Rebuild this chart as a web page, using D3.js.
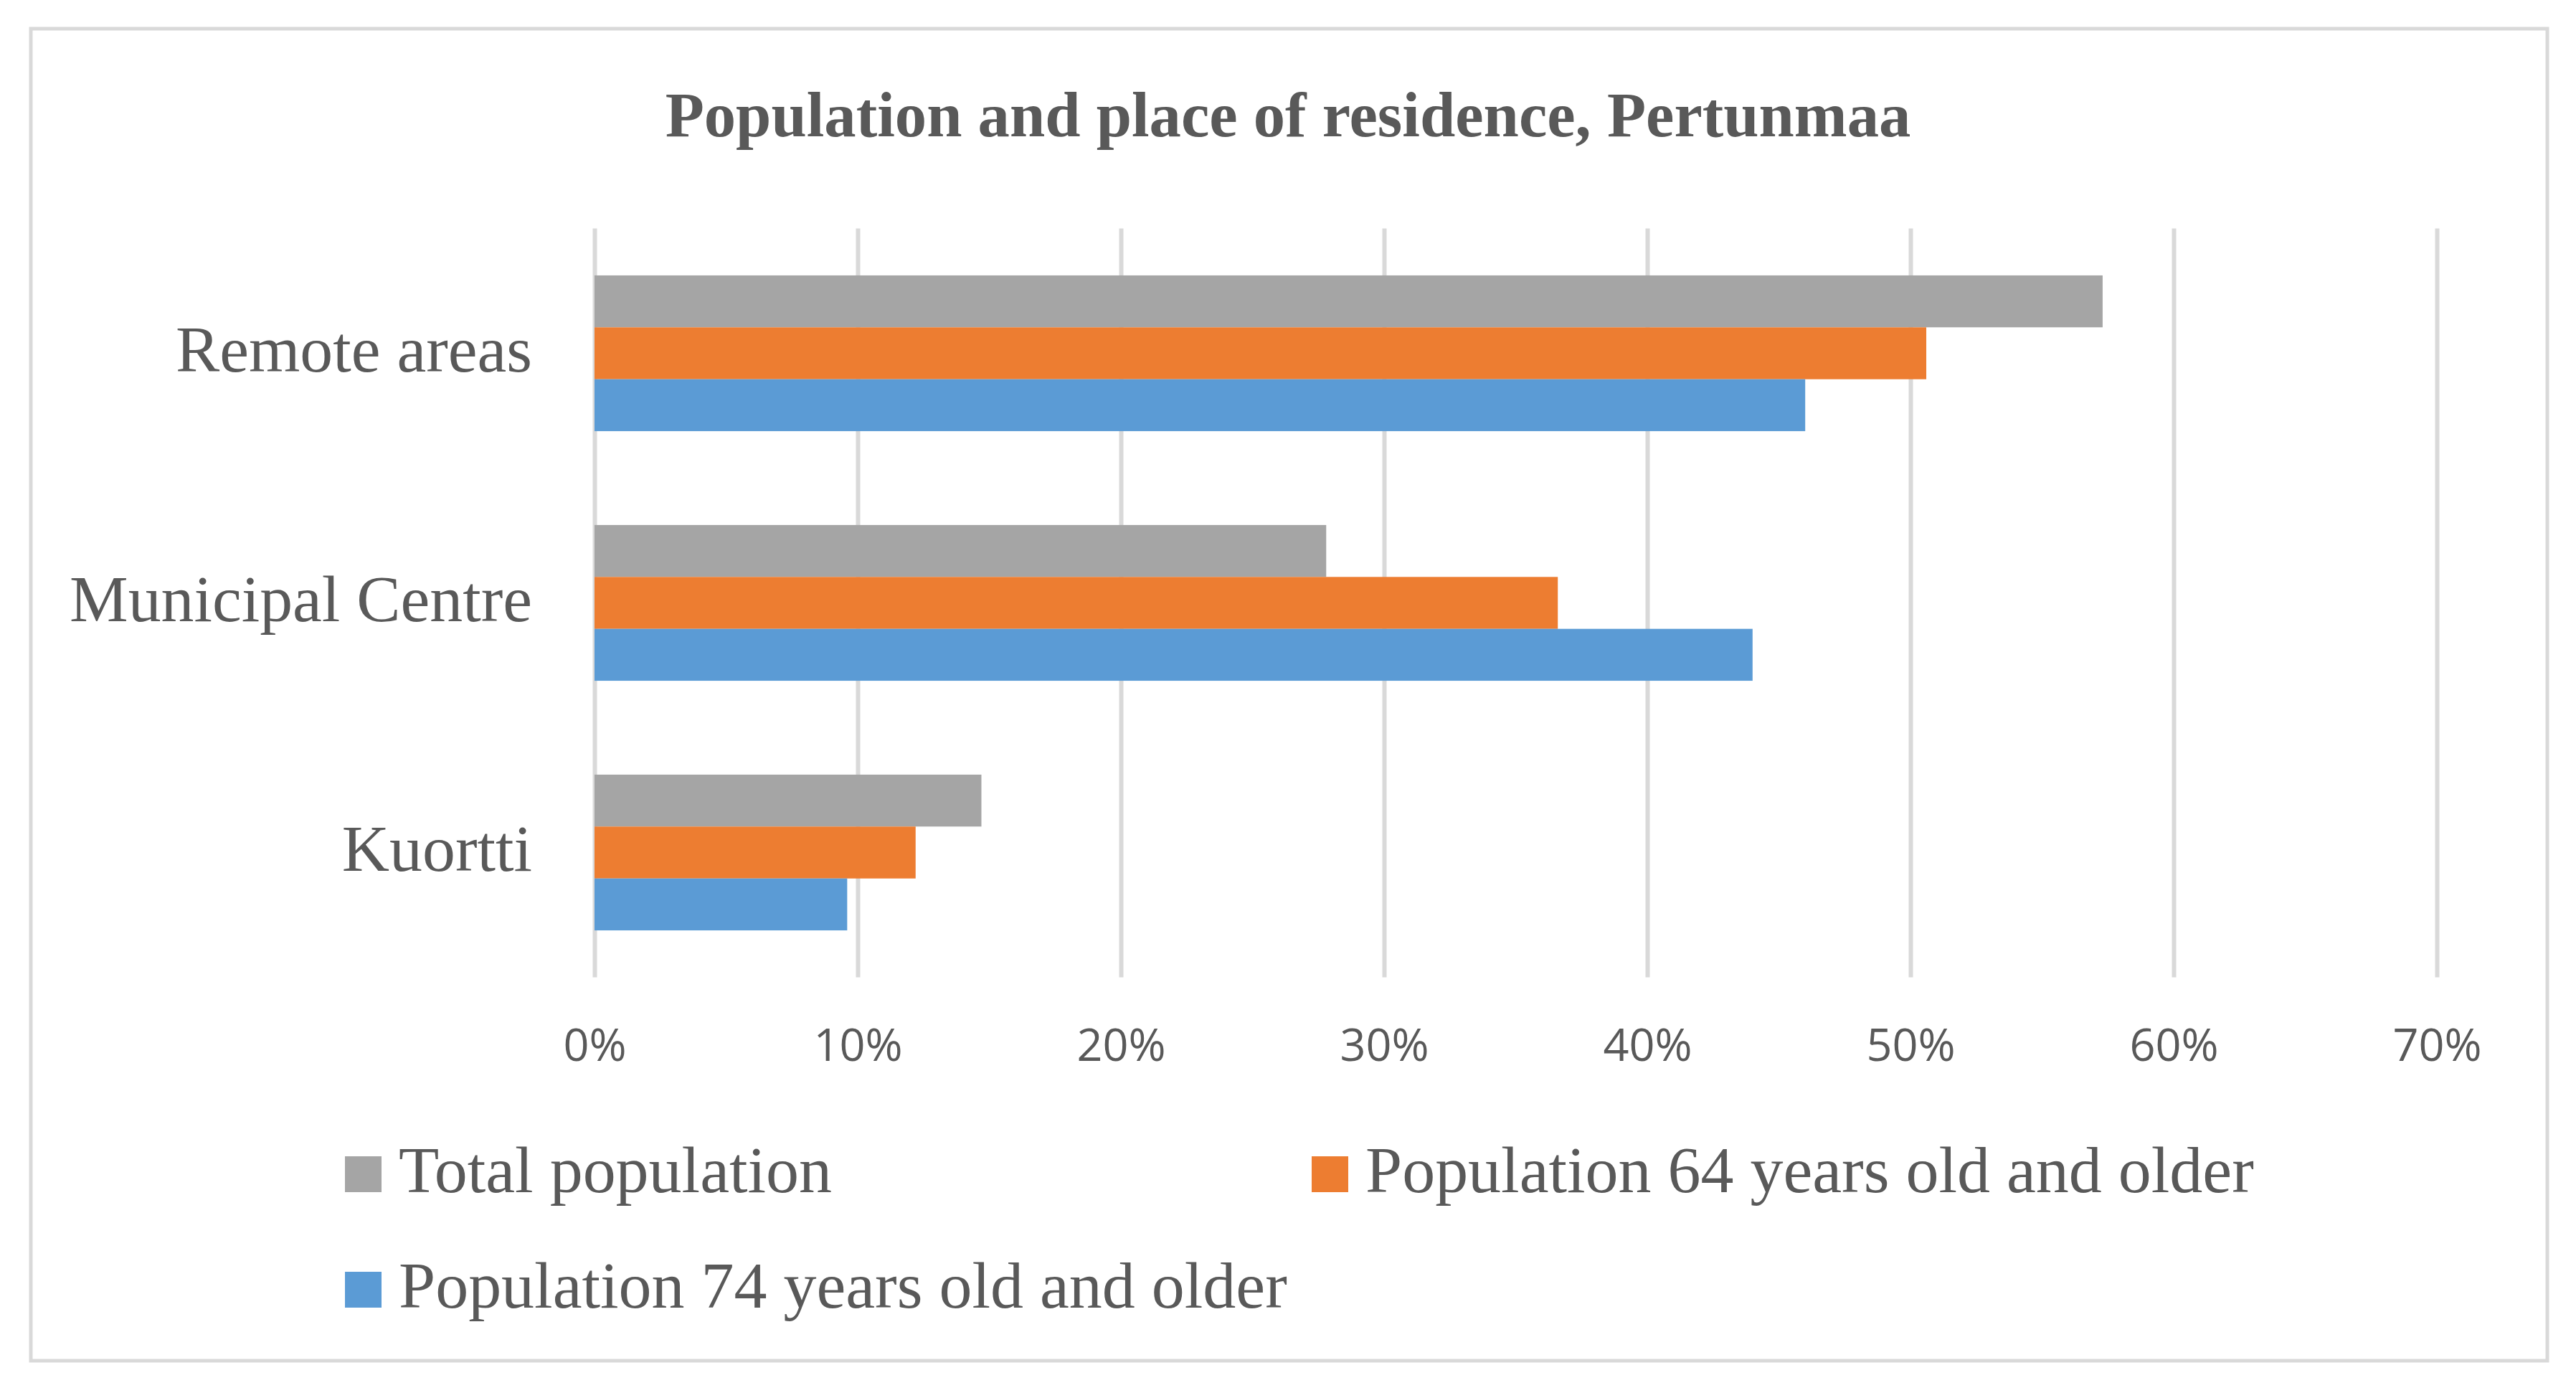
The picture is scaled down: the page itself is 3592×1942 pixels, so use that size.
<!DOCTYPE html>
<html>
<head>
<meta charset="utf-8">
<script src="https://cdn.jsdelivr.net/npm/d3@7"></script>
<style>
  body { margin: 0; background: #fff; }
  svg { display: block; }
</style>
</head>
<body>
<svg id="chart" width="3592" height="1942"></svg>
<script>
// chart data (percent of population)
var categories = ['Remote areas', 'Municipal Centre', 'Kuortti'];
var seriesNames = ['Total population', 'Population 64 years old and older', 'Population 74 years old and older'];
var totalPop = [57.3, 27.8, 14.7];
var pop64 = [50.6, 36.6, 12.2];
var pop74 = [46.0, 44.0, 9.6];
var tickValues = [0, 10, 20, 30, 40, 50, 60, 70];
var chartTitle = 'Population and place of residence, Pertunmaa';

var colors = ['#A5A5A5', '#ED7D31', '#5B9BD5'];
var textColor = '#595959';
var serif = '"Liberation Serif", "Times New Roman", serif';

var svg = d3.select('#chart');

// scale a text's font size so it spans the wanted width
function fitFont(sel, target)
{
    var w = sel.node().getComputedTextLength();
    var fs = parseFloat(sel.attr('font-size'));
    return fs * target / w;
}

// outer frame
svg.append('rect')
    .attr('x', 43).attr('y', 40)
    .attr('width', 3552 - 43).attr('height', 1897 - 40)
    .attr('fill', '#fff')
    .attr('stroke', '#D9D9D9')
    .attr('stroke-width', 5);

// title
var title = svg.append('text')
    .attr('x', 1796).attr('y', 190)
    .attr('text-anchor', 'middle')
    .attr('font-family', serif)
    .attr('font-weight', 'bold')
    .attr('font-size', 84)
    .attr('fill', textColor)
    .text(chartTitle);
title.attr('font-size', fitFont(title, 1737));

var plotTop = 318.5, plotBottom = 1362.5;

var x = d3.scaleLinear().domain([0, 70]).range([829, 3398]);

var y = d3.scaleBand()
    .domain(categories)
    .range([plotTop, plotBottom])
    .paddingInner(0.376)
    .paddingOuter(0.188);

var ySub = d3.scaleBand()
    .domain(seriesNames)
    .range([0, y.bandwidth()]);

// gridlines and tick labels
var xAxis = d3.axisBottom(x)
    .tickValues(tickValues)
    .tickFormat(d => d + '%')
    .tickSizeInner(-(plotBottom - plotTop))
    .tickSizeOuter(0);

var gx = svg.append('g')
    .attr('transform', 'translate(0,' + plotBottom + ')')
    .call(xAxis);
gx.select('.domain').remove();
gx.selectAll('line')
    .attr('stroke', '#D9D9D9')
    .attr('stroke-width', 6);
gx.selectAll('text')
    .attr('y', 116)
    .attr('dy', 0)
    .attr('fill', textColor)
    .attr('font-family', '"Open Sans", sans-serif')
    .attr('font-size', 63);

// bars
var seriesValues = [totalPop, pop64, pop74];
var rows = [];
categories.forEach((c, i) => {
    seriesNames.forEach((s, j) => {
        rows.push({category: c, series: s, value: seriesValues[j][i], color: colors[j]});
    });
});

svg.append('g')
    .selectAll('rect')
    .data(rows)
    .enter().append('rect')
    .attr('x', x(0))
    .attr('y', d => y(d.category) + ySub(d.series))
    .attr('width', d => x(d.value) - x(0))
    .attr('height', ySub.bandwidth())
    .attr('fill', d => d.color);

// category labels
var catLabels = svg.append('g')
    .selectAll('text')
    .data(categories)
    .enter().append('text')
    .attr('x', 742)
    .attr('y', d => y(d) + y.bandwidth() / 2 + 25)
    .attr('text-anchor', 'end')
    .attr('font-family', serif)
    .attr('font-size', 88)
    .attr('fill', textColor)
    .text(d => d);
var catSize = fitFont(catLabels.filter(d => d == 'Municipal Centre'), 645);
catLabels.attr('font-size', catSize);

// legend
var legendCols = [481, 1829];
var legendRows = [1612, 1773];
var lg = svg.append('g')
    .selectAll('g')
    .data(seriesNames)
    .enter().append('g')
    .attr('transform', (d, i) => 'translate(' + legendCols[i % 2] + ',' + legendRows[Math.floor(i / 2)] + ')');

lg.append('rect')
    .attr('width', 51).attr('height', 50)
    .attr('fill', (d, i) => colors[i]);

var lgText = lg.append('text')
    .attr('x', 75).attr('y', 50)
    .attr('font-family', serif)
    .attr('font-size', 90)
    .attr('fill', textColor)
    .text(d => d);
var lgSize = fitFont(lgText.filter((d, i) => i == 1), 1239);
lgText.attr('font-size', lgSize);
</script>
</body>
</html>
